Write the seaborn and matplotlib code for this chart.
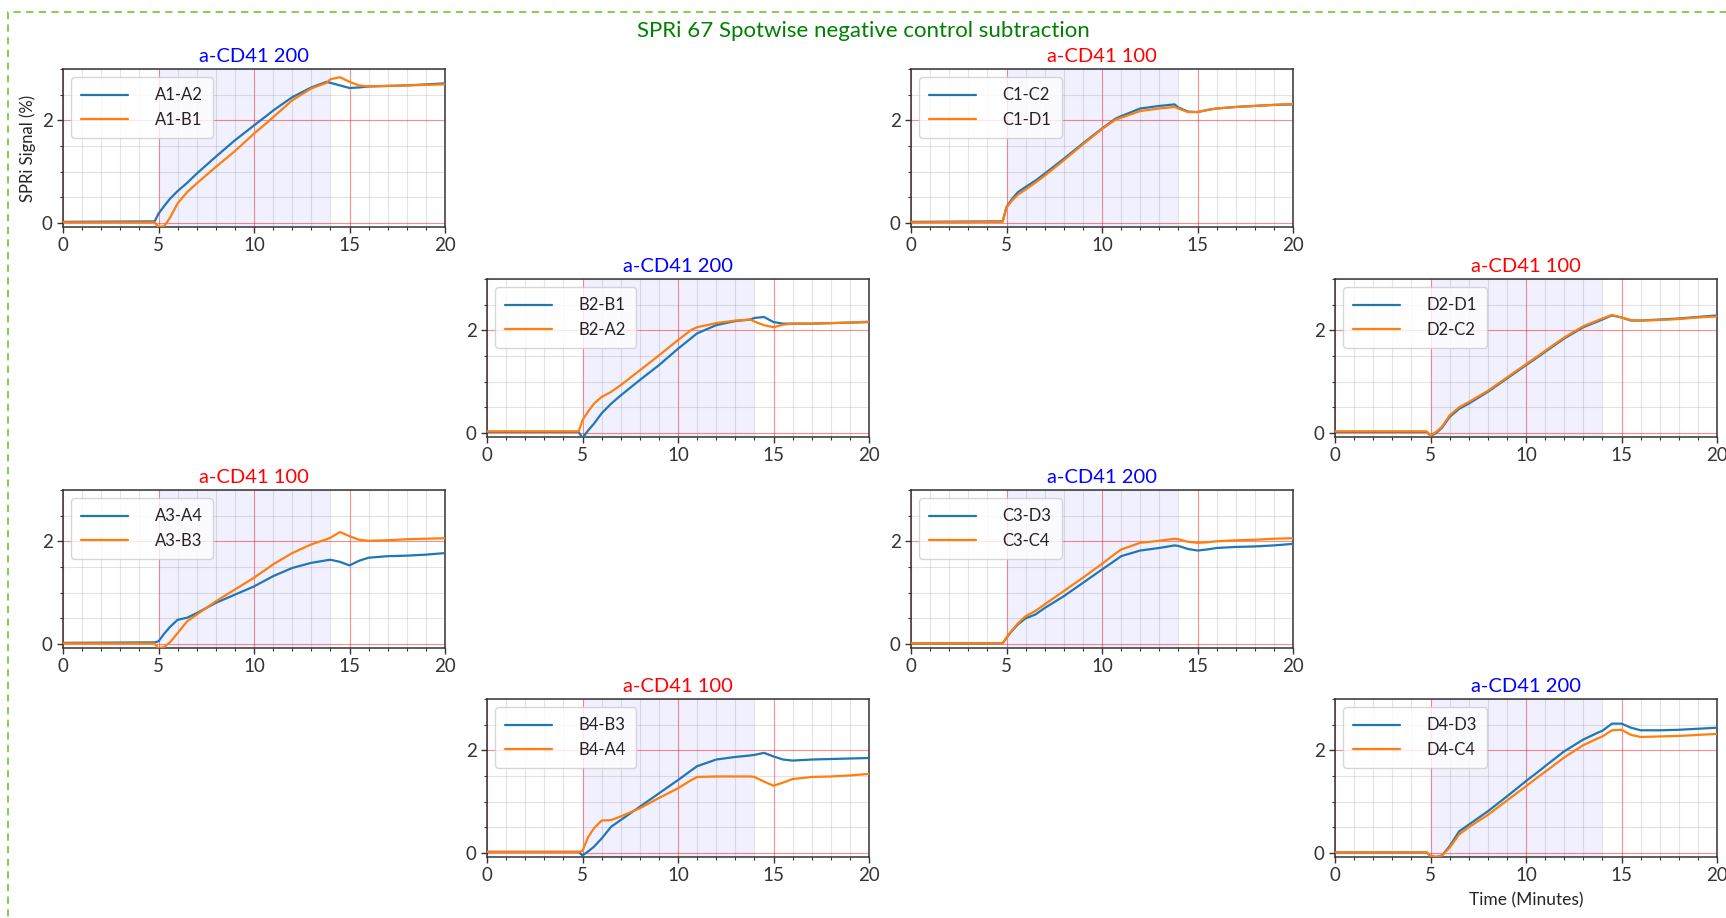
import numpy as np
import pandas as pd
import matplotlib
matplotlib.use("Agg")
import matplotlib.pyplot as plt
from matplotlib.patches import Rectangle
from matplotlib.ticker import MultipleLocator
import seaborn as sns

# ---------------- data ----------------
time_min = [0, 4.8, 5.0, 5.3, 5.6, 6.0, 6.5, 7, 8, 9, 10, 10.7, 11, 12, 13, 13.8,
            14.0, 14.5, 15.0, 15.5, 16, 17, 18, 19, 20]

titles = ["a-CD41 200", "a-CD41 100", "a-CD41 200", "a-CD41 100",
          "a-CD41 100", "a-CD41 200", "a-CD41 100", "a-CD41 200"]
title_colors = ["blue", "red", "blue", "red", "red", "blue", "red", "blue"]

labels_blue = ["A1-A2", "C1-C2", "B2-B1", "D2-D1", "A3-A4", "C3-D3", "B4-B3", "D4-D3"]
labels_orange = ["A1-B1", "C1-D1", "B2-A2", "D2-C2", "A3-B3", "C3-C4", "B4-A4", "D4-C4"]

A1_A2 = [0.02, 0.03, 0.18, 0.33, 0.47, 0.62, 0.78, 0.96, 1.29, 1.61, 1.90, 2.10, 2.19, 2.45, 2.64, 2.75,
         2.73, 2.68, 2.63, 2.64, 2.66, 2.67, 2.68, 2.70, 2.72]
A1_B1 = [0.01, 0.01, -0.08, -0.06, 0.10, 0.38, 0.60, 0.77, 1.09, 1.40, 1.74, 1.96, 2.06, 2.39, 2.62, 2.73,
         2.80, 2.84, 2.75, 2.68, 2.66, 2.67, 2.68, 2.69, 2.70]
C1_C2 = [0.02, 0.03, 0.31, 0.47, 0.60, 0.70, 0.82, 0.96, 1.25, 1.55, 1.84, 2.03, 2.08, 2.23, 2.28, 2.31,
         2.25, 2.17, 2.16, 2.20, 2.23, 2.26, 2.28, 2.30, 2.31]
C1_D1 = [0.01, 0.02, 0.30, 0.44, 0.55, 0.65, 0.78, 0.92, 1.22, 1.53, 1.83, 2.01, 2.05, 2.18, 2.23, 2.26,
         2.23, 2.16, 2.16, 2.20, 2.23, 2.26, 2.28, 2.30, 2.32]
B2_B1 = [0.02, 0.02, -0.10, 0.05, 0.18, 0.38, 0.57, 0.73, 1.03, 1.32, 1.64, 1.85, 1.94, 2.10, 2.18, 2.21,
         2.24, 2.26, 2.16, 2.13, 2.13, 2.13, 2.14, 2.15, 2.16]
B2_A2 = [0.03, 0.03, 0.25, 0.42, 0.57, 0.70, 0.80, 0.93, 1.22, 1.51, 1.81, 2.01, 2.06, 2.14, 2.19, 2.21,
         2.17, 2.10, 2.06, 2.11, 2.13, 2.13, 2.14, 2.15, 2.17]
D2_D1 = [0.02, 0.02, -0.06, 0.00, 0.10, 0.31, 0.47, 0.57, 0.80, 1.06, 1.32, 1.50, 1.58, 1.84, 2.06, 2.18,
         2.21, 2.29, 2.25, 2.19, 2.19, 2.21, 2.23, 2.26, 2.29]
D2_C2 = [0.03, 0.03, -0.05, 0.02, 0.12, 0.34, 0.50, 0.60, 0.82, 1.08, 1.34, 1.52, 1.60, 1.86, 2.08, 2.20,
         2.23, 2.30, 2.25, 2.20, 2.19, 2.20, 2.22, 2.25, 2.27]
A3_A4 = [0.02, 0.03, 0.05, 0.20, 0.33, 0.47, 0.51, 0.60, 0.80, 0.96, 1.12, 1.26, 1.32, 1.48, 1.58, 1.63,
         1.64, 1.60, 1.53, 1.62, 1.68, 1.71, 1.72, 1.74, 1.77]
A3_B3 = [0.01, 0.01, -0.09, -0.06, 0.03, 0.21, 0.44, 0.57, 0.83, 1.06, 1.29, 1.47, 1.55, 1.77, 1.94, 2.04,
         2.07, 2.18, 2.10, 2.03, 2.01, 2.02, 2.04, 2.05, 2.06]
C3_D3 = [0.01, 0.01, 0.12, 0.26, 0.38, 0.50, 0.57, 0.70, 0.93, 1.19, 1.45, 1.63, 1.71, 1.82, 1.87, 1.92,
         1.91, 1.85, 1.82, 1.84, 1.87, 1.89, 1.90, 1.92, 1.95]
C3_C4 = [0.01, 0.01, 0.12, 0.27, 0.40, 0.54, 0.64, 0.77, 1.03, 1.29, 1.56, 1.76, 1.84, 1.97, 2.01, 2.05,
         2.04, 1.99, 1.97, 1.98, 2.00, 2.02, 2.03, 2.05, 2.06]
B4_B3 = [0.02, 0.02, -0.05, 0.03, 0.12, 0.28, 0.51, 0.64, 0.90, 1.16, 1.42, 1.61, 1.69, 1.82, 1.87, 1.90,
         1.91, 1.95, 1.88, 1.82, 1.80, 1.82, 1.83, 1.84, 1.85]
B4_A4 = [0.02, 0.02, 0.04, 0.31, 0.48, 0.63, 0.64, 0.71, 0.87, 1.07, 1.26, 1.42, 1.48, 1.49, 1.49, 1.49,
         1.48, 1.39, 1.31, 1.37, 1.44, 1.48, 1.49, 1.51, 1.54]
D4_D3 = [0.01, 0.01, -0.06, -0.08, -0.05, 0.13, 0.42, 0.55, 0.81, 1.10, 1.40, 1.60, 1.69, 1.98, 2.21, 2.35,
         2.38, 2.52, 2.52, 2.44, 2.39, 2.39, 2.40, 2.42, 2.44]
D4_C4 = [0.01, 0.01, -0.06, -0.08, -0.05, 0.10, 0.36, 0.50, 0.74, 1.02, 1.30, 1.50, 1.58, 1.86, 2.10, 2.24,
         2.27, 2.39, 2.40, 2.30, 2.26, 2.27, 2.28, 2.30, 2.32]

series_blue = [A1_A2, C1_C2, B2_B1, D2_D1, A3_A4, C3_D3, B4_B3, D4_D3]
series_orange = [A1_B1, C1_D1, B2_A2, D2_C2, A3_B3, C3_C4, B4_A4, D4_C4]

# grid positions (row, col) of each panel
panel_rows = [0, 0, 1, 1, 2, 2, 3, 3]
panel_cols = [0, 2, 1, 3, 0, 2, 1, 3]

# ---------------- style ----------------
sns.set_style("white")
plt.rcParams["font.family"] = ["Lato", "DejaVu Sans"]
plt.rcParams["axes.edgecolor"] = "#333333"
plt.rcParams["xtick.color"] = "#333333"
plt.rcParams["ytick.color"] = "#333333"
plt.rcParams["text.color"] = "#222222"

W, H = 1726, 918
fig = plt.figure(figsize=(W / 100, H / 100), dpi=100)

col_left = [63, 487, 911, 1335]
row_top = [69, 279, 490, 699]
ax_w, ax_h = 382, 158
palette = ["#1f77b4", "#ff7f0e"]

# dashed green frame
fig.patches.append(Rectangle((8 / W, -0.05), 1.2, 1.05 - 12 / H, transform=fig.transFigure,
                             fill=False, edgecolor="#7ac943", linestyle=(0, (4, 3)), linewidth=1.3))
fig.text(0.5, 1 - 31 / H, "SPRi 67 Spotwise negative control subtraction", color="green",
         fontsize=16, ha="center", va="center")

for i in range(8):
    r, c = panel_rows[i], panel_cols[i]
    ax = fig.add_axes([col_left[c] / W, 1 - (row_top[r] + ax_h) / H, ax_w / W, ax_h / H])
    df = pd.DataFrame({
        "t": list(time_min) * 2,
        "v": list(series_blue[i]) + list(series_orange[i]),
        "pair": [labels_blue[i]] * len(time_min) + [labels_orange[i]] * len(time_min),
    })
    ax.axvspan(5, 14, color="#0000ff", alpha=0.06, lw=0, zorder=0)
    sns.lineplot(data=df, x="t", y="v", hue="pair", palette=palette, ax=ax, lw=1.6,
                 legend=True, zorder=3)
    ax.set_xlim(0, 20)
    ax.set_ylim(-0.08, 3.0)
    ax.xaxis.set_major_locator(MultipleLocator(5))
    ax.xaxis.set_minor_locator(MultipleLocator(1))
    ax.yaxis.set_major_locator(MultipleLocator(2))
    ax.yaxis.set_minor_locator(MultipleLocator(0.5))
    ax.grid(which="major", color="red", alpha=0.45, lw=0.8)
    ax.grid(which="minor", color="gray", alpha=0.22, lw=0.8)
    ax.set_axisbelow(True)
    ax.tick_params(which="major", direction="out", length=4, width=1, labelsize=13.5, bottom=True, left=True)
    ax.tick_params(which="minor", direction="out", length=2.5, width=0.8, bottom=True, left=True)
    for s in ax.spines.values():
        s.set_linewidth(1.1)
        s.set_visible(True)
    ax.set_title(titles[i], color=title_colors[i], fontsize=14.5, pad=5)
    ax.set_xlabel("Time (Minutes)" if i == 7 else "", fontsize=12.5, labelpad=6)
    ax.set_ylabel("SPRi Signal (%)" if i == 0 else "", fontsize=12)
    leg = ax.legend(loc="upper left", fontsize=12, handlelength=2.8, handletextpad=1.6,
                    borderpad=0.6, labelspacing=0.5, frameon=True, fancybox=True)
    leg.get_frame().set_edgecolor("#cccccc")

fig.savefig("out.png", dpi=100)
